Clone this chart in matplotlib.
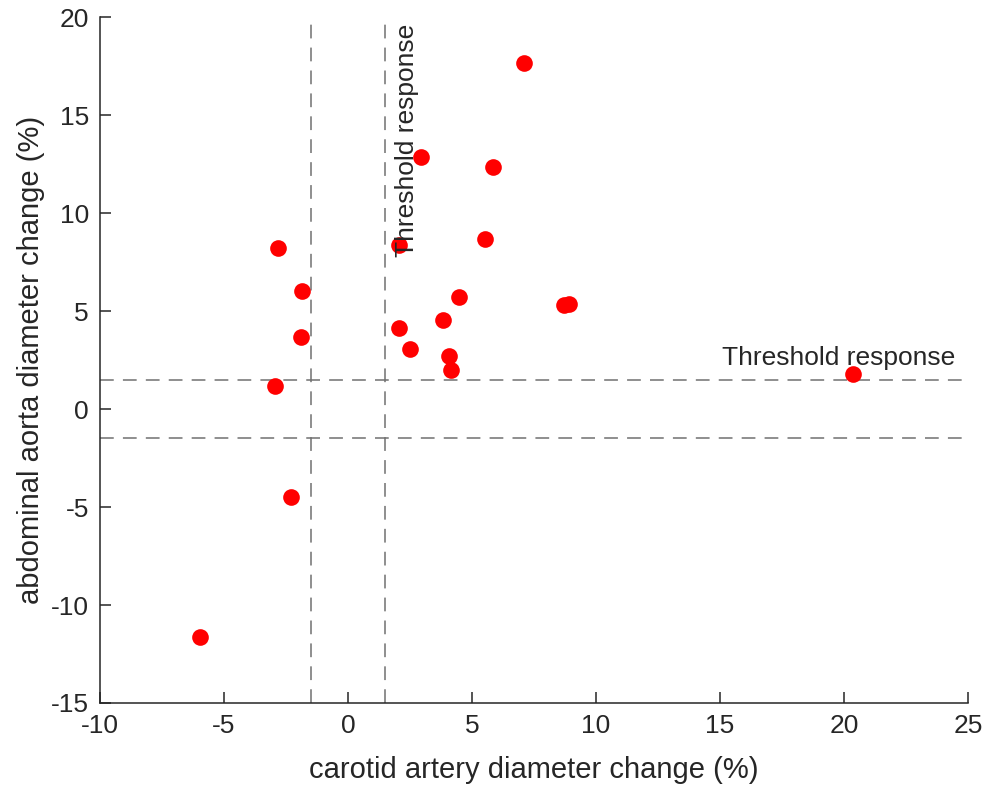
import matplotlib.pyplot as plt

plt.rcParams['font.family'] = ['Liberation Sans', 'DejaVu Sans']
plt.rcParams['axes.unicode_minus'] = False

# carotid vs abdominal aorta diameter change (%)
carotid = [7.08, 2.96, 5.83, -2.81, 2.07, 5.54, -1.84, 4.46, 8.70, 8.90,
           3.85, 2.07, -1.88, 2.52, 4.09, 4.17, -2.93, 20.36, -2.28, -5.96]
aorta = [17.66, 12.85, 12.33, 8.24, 8.39, 8.65, 6.04, 5.73, 5.32, 5.37,
         4.55, 4.15, 3.68, 3.07, 2.71, 2.00, 1.18, 1.79, -4.50, -11.62]
threshold = 1.5

fig = plt.figure(figsize=(9.86, 7.89), dpi=100)
ax = fig.add_axes([0.1014, 0.109, 0.8803, 0.8694])

dark = '#262626'
dash = (0, (9, 6))
for t in (-threshold, threshold):
    ax.axvline(t, color='#707070', lw=1.1, linestyle=dash)
    ax.axhline(t, color='#707070', lw=1.1, linestyle=dash)

ax.plot(carotid, aorta, 'o', color='red', markersize=12, markeredgewidth=0)

ax.text(2.4, 7.75, 'Threshold response', rotation=90, ha='center', va='bottom',
        fontsize=19, color=dark)
ax.text(15.1, 2.6, 'Threshold response', ha='left', va='center',
        fontsize=19, color=dark)

ax.set_xlim(-10, 25)
ax.set_ylim(-15, 20)
ax.set_xticks(range(-10, 26, 5))
ax.set_yticks(range(-15, 21, 5))
ax.spines['top'].set_visible(False)
ax.spines['right'].set_visible(False)
for s in ('left', 'bottom'):
    ax.spines[s].set_color(dark)
    ax.spines[s].set_linewidth(1.1)
ax.tick_params(direction='in', length=8, width=1.1, color=dark,
               labelcolor=dark, labelsize=19, pad=8)

ax.set_xlabel('carotid artery diameter change (%)', fontsize=21, color=dark, labelpad=13)
ax.set_ylabel('abdominal aorta diameter change (%)', fontsize=21, color=dark, labelpad=4)

fig.savefig('out.png', dpi=100)
